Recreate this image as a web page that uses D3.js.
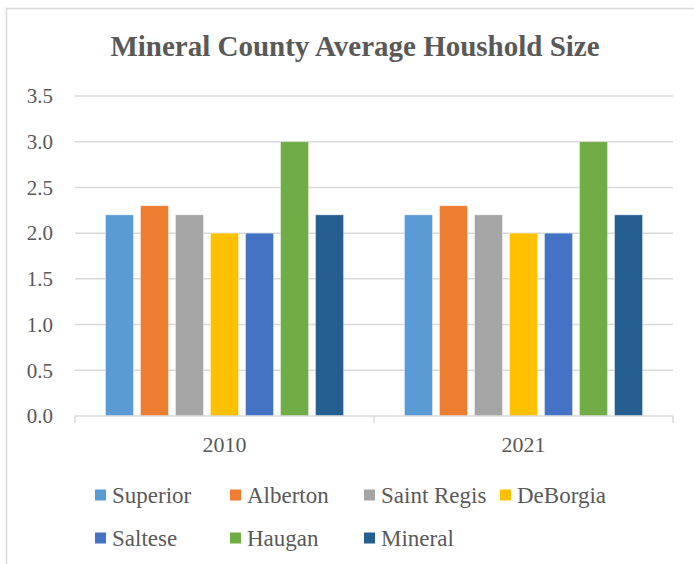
<!DOCTYPE html>
<html>
<head>
<meta charset="utf-8">
<script src="https://cdn.jsdelivr.net/npm/d3@7"></script>
<style>
  html, body { margin: 0; padding: 0; background: #fff; }
  svg { display: block; }
  svg text { font-family: 'Liberation Serif', serif; }
</style>
</head>
<body>
<div id="chart"></div>
<script>
// Mineral County average household size, by town and year
const years = ['2010', '2021'];
const towns = ['Superior', 'Alberton', 'Saint Regis', 'DeBorgia', 'Saltese', 'Haugan', 'Mineral'];
const values2010 = [2.2, 2.3, 2.2, 2.0, 2.0, 3.0, 2.2];
const values2021 = [2.2, 2.3, 2.2, 2.0, 2.0, 3.0, 2.2];
const yTicks = [0, 0.5, 1.0, 1.5, 2.0, 2.5, 3.0, 3.5];
const colors = ['#5b9bd5', '#ed7d31', '#a5a5a5', '#ffc000', '#4472c4', '#70ad47', '#255e91'];

const seriesByYear = { '2010': values2010, '2021': values2021 };

const W = 694, H = 564;
const plot = { left: 75, right: 673, top: 96, bottom: 416 };
const textColor = '#595959';
const lineColor = '#d9d9d9';
const font = 'Liberation Serif';

const svg = d3.select('#chart').append('svg')
  .attr('width', W)
  .attr('height', H)
  .attr('font-family', font);

// chart frame (runs off the right/bottom of the picture)
svg.append('rect')
  .attr('x', 6.5).attr('y', 8.5)
  .attr('width', W + 20).attr('height', H + 20)
  .attr('fill', '#fff')
  .attr('stroke', lineColor)
  .attr('stroke-width', 1.5);

// Title
svg.append('text')
  .attr('x', 355).attr('y', 56)
  .attr('text-anchor', 'middle')
  .attr('font-family', font)
  .attr('font-size', '29px')
  .attr('font-weight', 'bold')
  .attr('fill', textColor)
  .text('Mineral County Average Houshold Size');

const y = d3.scaleLinear().domain([0, 3.5]).range([plot.bottom, plot.top]);
const x0 = d3.scaleBand().domain(years).range([plot.left, plot.right]).padding(0);
const x1 = d3.scaleBand().domain(towns).range([0, x0.bandwidth()])
  .paddingInner(0.2).paddingOuter(0.87);

// gridlines
svg.append('g')
  .selectAll('line')
  .data(yTicks.filter(d => d > 0))
  .join('line')
  .attr('x1', plot.left).attr('x2', plot.right)
  .attr('y1', d => y(d)).attr('y2', d => y(d))
  .attr('stroke', lineColor)
  .attr('stroke-width', 1.5);

// y labels
svg.append('g')
  .selectAll('text')
  .data(yTicks)
  .join('text')
  .attr('x', 53)
  .attr('y', d => y(d))
  .attr('dy', '0.35em')
  .attr('text-anchor', 'end')
  .attr('font-family', font)
  .attr('font-size', '21px')
  .attr('fill', textColor)
  .text(d => d.toFixed(1));

// bars
const groups = svg.append('g')
  .selectAll('g')
  .data(years)
  .join('g')
  .attr('transform', d => `translate(${x0(d)},0)`);

groups.selectAll('rect')
  .data(yr => towns.map((t, i) => ({ town: t, value: seriesByYear[yr][i], i })))
  .join('rect')
  .attr('x', d => x1(d.town))
  .attr('y', d => y(d.value))
  .attr('width', x1.bandwidth())
  .attr('height', d => y(0) - y(d.value))
  .attr('fill', d => colors[d.i])
  .attr('stroke', '#fff')
  .attr('stroke-opacity', 0.5)
  .attr('stroke-width', 0.75);

// x axis line + category dividers
svg.append('line')
  .attr('x1', plot.left).attr('x2', plot.right)
  .attr('y1', plot.bottom).attr('y2', plot.bottom)
  .attr('stroke', lineColor)
  .attr('stroke-width', 1.5);

const dividers = years.map(d => x0(d)).concat([plot.right]);
svg.append('g')
  .selectAll('line')
  .data(dividers)
  .join('line')
  .attr('x1', d => d).attr('x2', d => d)
  .attr('y1', plot.bottom).attr('y2', plot.bottom + 7)
  .attr('stroke', lineColor)
  .attr('stroke-width', 1.5);

svg.append('g')
  .selectAll('text')
  .data(years)
  .join('text')
  .attr('x', d => x0(d) + x0.bandwidth() / 2)
  .attr('y', 452)
  .attr('text-anchor', 'middle')
  .attr('font-family', font)
  .attr('font-size', '22px')
  .attr('fill', textColor)
  .text(d => d);

// legend, two rows
const colX = [95, 230, 364, 500];
const rowY = [495, 538];
const legend = svg.append('g')
  .selectAll('g')
  .data(towns)
  .join('g')
  .attr('transform', (d, i) => `translate(${colX[i % 4]},${rowY[Math.floor(i / 4)]})`);

legend.append('rect')
  .attr('x', 0).attr('y', -5.5)
  .attr('width', 11).attr('height', 11)
  .attr('fill', (d, i) => colors[i]);

legend.append('text')
  .attr('x', 17)
  .attr('y', 0)
  .attr('dy', '0.35em')
  .attr('font-family', font)
  .attr('font-size', '23px')
  .attr('fill', textColor)
  .text(d => d);
</script>
</body>
</html>
